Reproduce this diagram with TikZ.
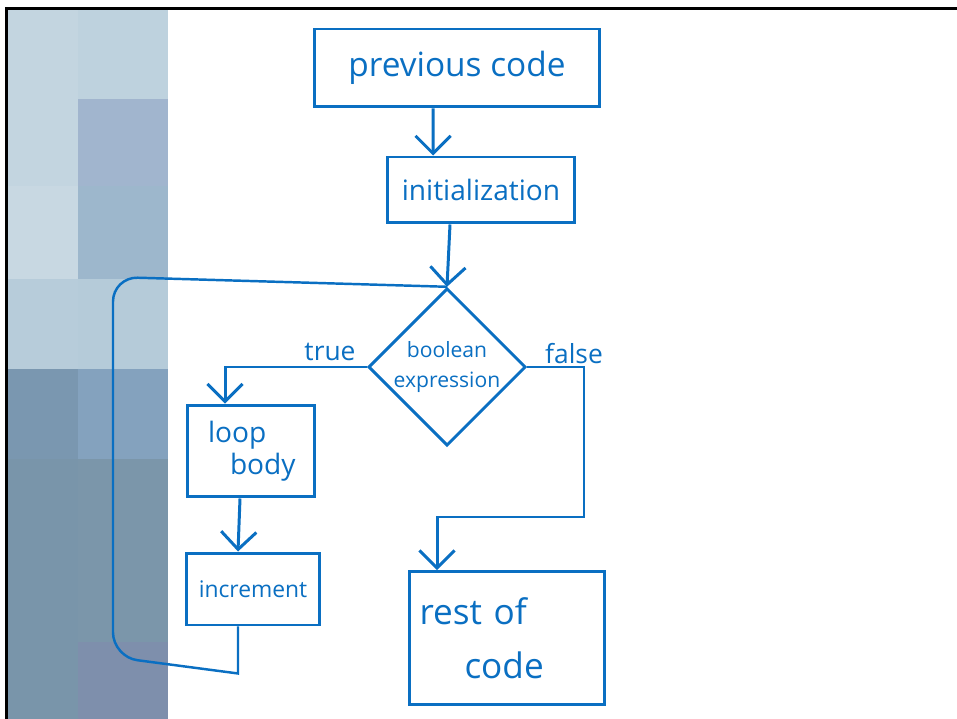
\documentclass[tikz,border=0pt]{standalone}
\usepackage{fontspec}
\setmainfont{Open Sans}
\usetikzlibrary{shapes.geometric, arrows.meta}
\definecolor{ink}{HTML}{0A6FC2}

\begin{document}
\begin{tikzpicture}[x=0.02cm, y=-0.02cm,
    box/.style={draw=ink, line width=1.7pt, text=ink, inner sep=0pt, align=center},
    arr/.style={draw=ink, line width=1.7pt, -{Straight Barb[length=10pt, width=20pt]}},
    wire/.style={draw=ink, line width=1.4pt},
    lbl/.style={text=ink, font=\fontsize{15}{15}\selectfont}]

    \useasboundingbox (0,0) rectangle (957,719);
    \fill[white] (0,0) rectangle (957,719);

    % left strip
    \fill[fill={rgb,255:red,195;green,213;blue,224}] (7,7) rectangle (78,186);
    \fill[fill={rgb,255:red,200;green,216;blue,226}] (7,186) rectangle (78,279);
    \fill[fill={rgb,255:red,183;green,204;blue,218}] (7,279) rectangle (78,369);
    \fill[fill={rgb,255:red,122;green,151;blue,176}] (7,369) rectangle (78,459);
    \fill[fill={rgb,255:red,121;green,149;blue,170}] (7,459) rectangle (78,719);
    \fill[fill={rgb,255:red,190;green,210;blue,222}] (78,7) rectangle (168,99);
    \fill[fill={rgb,255:red,161;green,181;blue,206}] (78,99) rectangle (168,186);
    \fill[fill={rgb,255:red,157;green,183;blue,204}] (78,186) rectangle (168,279);
    \fill[fill={rgb,255:red,181;green,203;blue,217}] (78,279) rectangle (168,369);
    \fill[fill={rgb,255:red,132;green,162;blue,190}] (78,369) rectangle (168,459);
    \fill[fill={rgb,255:red,123;green,150;blue,170}] (78,459) rectangle (168,642);
    \fill[fill={rgb,255:red,126;green,143;blue,172}] (78,642) rectangle (168,719);

    % frame
    \fill[black] (5,7) rectangle (957,10);
    \fill[black] (5,7) rectangle (8,719);

    \node[box, minimum width=5.7cm, minimum height=1.56cm, font=\fontsize{19}{19}\selectfont] at (457,68) (prev) {previous code};
    \node[box, minimum width=3.76cm, minimum height=1.32cm, font=\fontsize{16}{16}\selectfont] at (481,190) (init) {initialization};
    \node[box, diamond, minimum width=3cm, minimum height=3cm, font=\fontsize{12}{17}\selectfont] at (447,367) (cond) {boolean\\expression};
    \node[box, minimum width=2.54cm, minimum height=1.84cm, text width=1.72cm, align=left, font=\fontsize{16}{18}\selectfont] at (251,451) (body) {loop\\\hspace*{0.44cm}body};
    \node[box, minimum width=2.66cm, minimum height=1.44cm, font=\fontsize{13}{13}\selectfont] at (253,589) (incr) {increment};
    \node[box, minimum width=3.9cm, minimum height=2.66cm, text width=3.5cm, align=left, font=\fontsize{20}{31}\selectfont] at (507,638) (rest) {rest of\\\hspace*{0.9cm}code};

    \node[lbl] at (330,352) (t) {true};
    \node[lbl] at (574,354) (f) {false};

    \coordinate (fturn) at (584,517);
    \coordinate (lc) at ([xshift=-0.3cm, yshift=-0.94cm]incr.south);
    \coordinate (lb) at (113,657);
    \coordinate (lt) at (113,277);

    \draw[arr] ([xshift=-0.48cm]prev.south) -- ([xshift=-0.96cm]init.north);
    \draw[arr] ([xshift=-0.62cm]init.south) -- (cond.north);
    \draw[arr] (cond.west) -| ([xshift=-0.52cm]body.north);
    \draw[arr] (cond.east) -| (fturn) -| ([xshift=-1.4cm]rest.north);
    \draw[arr] ([xshift=-0.22cm]body.south) -- ([xshift=-0.3cm]incr.north);
    \draw[wire] ([xshift=-0.3cm]incr.south) -- (lc) [rounded corners=14pt] -- (lb) -- (lt) -- (cond.north);
\end{tikzpicture}
\end{document}
